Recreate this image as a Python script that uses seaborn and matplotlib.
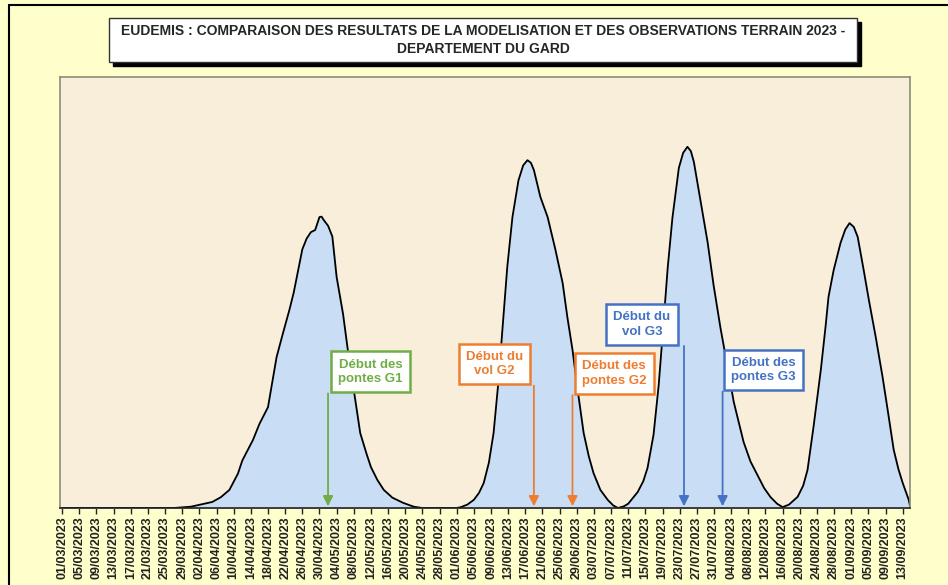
import matplotlib
matplotlib.use("Agg")
import matplotlib.pyplot as plt
import matplotlib.dates as mdates
from matplotlib.patches import Rectangle
import seaborn as sns
import pandas as pd

# data (day offset from 01/03/2023, relative level)
debut = pd.Timestamp("2023-03-01")
jours = [0, 26, 30, 35, 37, 39, 41, 42, 44.5, 46, 48, 50, 51.5, 53, 54, 55, 56, 57, 58, 59,
         59.5, 60, 60.5, 61, 62, 63, 64,
         65.5, 66.7, 68, 69.5, 71, 72, 73.5, 75, 77, 79.5, 82, 84, 92,
         93, 94.5, 96, 97.2, 98.3, 99.5, 100.6, 101.7, 102.6, 103.8, 105, 106.4, 107.5,
         108.5, 109.3, 110, 111.5,
         113.2, 115, 116.7, 117.8, 119, 120.2, 121.6, 122.8, 123.9, 125.5, 127.2, 128.5, 129.6,
         131, 132, 134.2, 135.5, 136.5, 137.9, 139.1, 140, 141.2, 142.3, 143.8, 144.8, 145.8,
         146.6, 147.3,
         148.9, 150.5, 151.9, 153.5, 155.2, 156.6, 158.9, 160.5, 162.1, 163.7, 165.2, 166.7, 168,
         169.5, 171.5, 172.8, 173.8, 175.2, 176.9, 178, 178.7, 179.9, 181.5, 182.6, 183.6, 184.6,
         185.5, 186.9,
         188.1, 189.7, 191.3, 192.5, 193.9, 195, 196, 197.4, 197.7]
niveau = [0, 0, 0.3, 1.4, 2.5, 4.2, 8, 11, 15.8, 19.5, 23.4, 35, 40.6, 46, 50, 55, 60, 62.5, 64, 64.5,
          66, 67.5, 67.6, 66.8, 65.5, 63, 53.6,
          45, 36, 27.4, 17.4, 12.5, 9.5, 6.5, 4.2, 2.4, 1.2, 0.3, 0, 0,
          0.2, 0.8, 1.9, 3.5, 5.8, 10.5, 17.4, 29, 40.6, 56, 67.5, 76, 79.5,
          80.7, 80.1, 78.4, 72.2,
          67.5, 60, 52.2, 44.3, 36.7, 27.4, 17.4, 12, 8.1, 4.2, 1.9, 0.6, 0,
          0.4, 1, 3.7, 6.2, 9.3, 17, 28.5, 40, 55.7, 67.3, 78.9, 82.4, 83.8,
          82.8, 80.3,
          71, 61.7, 51.7, 41.8, 32.5, 24.6, 15.3, 10.8, 7.7, 4.6, 2.5, 1, 0.2,
          0.8, 2.6, 5.2, 8.8, 18.8, 32, 42, 49, 55.2, 61.5, 64.6, 66.1, 65.2,
          62.9, 55.2,
          48.3, 39.7, 30.4, 22.7, 13.5, 9, 5.8, 1.9, 0.5]

# observed events: label, date, colour, box centre (day offset, level)
evenements = ["Début des\npontes G1", "Début du\nvol G2", "Début des\npontes G2",
              "Début du\nvol G3", "Début des\npontes G3"]
dates_evt = ["2023-05-02", "2023-06-19", "2023-06-28", "2023-07-24", "2023-08-02"]
couleurs_evt = ["#70AD47", "#ED7D31", "#ED7D31", "#4472C4", "#4472C4"]
box_x = [71.9, 100.8, 128.7, 135.2, 163.6]
box_y = [31.6, 33.4, 31.2, 42.6, 32.0]

titre = ("EUDEMIS : COMPARAISON DES RESULTATS DE LA MODELISATION ET DES OBSERVATIONS TERRAIN 2023 -\n"
         "DEPARTEMENT DU GARD")

sns.set_theme(style="white")
plt.rcParams["font.family"] = ["Liberation Sans", "DejaVu Sans"]

df = pd.DataFrame({"date": debut + pd.to_timedelta(jours, unit="D"), "niveau": niveau})

fig = plt.figure(figsize=(9.48, 5.85), dpi=100)
fig.patch.set_facecolor("#FFFFCC")
# outer chart frame (top and left visible)
fig.patches.append(Rectangle((9 / 948, -0.1), 1.2, 1 - 5 / 585 + 0.1, transform=fig.transFigure,
                             fill=False, edgecolor="black", linewidth=1.5))

ax = fig.add_axes([60 / 948, 1 - 508 / 585, 850 / 948, 431 / 585])
ax.set_facecolor("#F9EEDA")

ax.fill_between(df["date"], df["niveau"], color="#C9DDF4", zorder=1)
sns.lineplot(data=df, x="date", y="niveau", color="black", linewidth=1.3, ax=ax, zorder=2)

for lab, d, c, bx, by in zip(evenements, dates_evt, couleurs_evt, box_x, box_y):
    bdate = debut + pd.Timedelta(days=bx)
    ax.text(bdate, by, lab, ha="center", va="center", color=c, fontsize=9.5,
            fontweight="bold", linespacing=1.25, zorder=5,
            bbox=dict(boxstyle="square,pad=0.55", facecolor="white", edgecolor=c, linewidth=1.8))
    # arrow from bottom of box down to the axis
    ytop = by - 5.0
    ax.annotate("", xy=(pd.Timestamp(d), 0.4), xytext=(pd.Timestamp(d), ytop),
                arrowprops=dict(arrowstyle="-|>,head_length=0.5,head_width=0.25", color=c,
                                linewidth=1.3, shrinkA=0, shrinkB=0), zorder=4)

ax.set_xlim(debut - pd.Timedelta(days=0.5), debut + pd.Timedelta(days=197.7))
ax.set_ylim(0, 100)
ticks = pd.date_range("2023-03-01", "2023-09-13", freq="4D")
ax.set_xticks(ticks)
ax.xaxis.set_major_formatter(mdates.DateFormatter("%d/%m/%Y"))
ax.tick_params(axis="x", rotation=90, labelsize=9, length=4, width=1, direction="out",
               bottom=True, colors="#222222", pad=2)
for lbl in ax.get_xticklabels():
    lbl.set_fontweight("bold")
ax.set_yticks([])
ax.set_xlabel("")
ax.set_ylabel("")
for s in ["top", "right", "left"]:
    ax.spines[s].set_color("#8C8C7A")
    ax.spines[s].set_linewidth(1.2)
ax.spines["bottom"].set_color("#222222")
ax.spines["bottom"].set_linewidth(1.2)

# title box with drop shadow
fig.patches.append(Rectangle((113 / 948, 1 - 66 / 585), 748 / 948, 44 / 585, transform=fig.transFigure,
                             facecolor="black", edgecolor="black", zorder=1))
fig.patches.append(Rectangle((109 / 948, 1 - 62 / 585), 748 / 948, 44 / 585, transform=fig.transFigure,
                             facecolor="white", edgecolor="#333333", linewidth=1, zorder=2))
fig.text(483 / 948, 1 - 40 / 585, titre, ha="center", va="center", fontsize=10,
         fontweight="bold", family=["Liberation Sans Narrow", "Liberation Sans", "DejaVu Sans"],
         linespacing=1.35, zorder=3)

fig.savefig("out.png", dpi=100, facecolor=fig.get_facecolor())
